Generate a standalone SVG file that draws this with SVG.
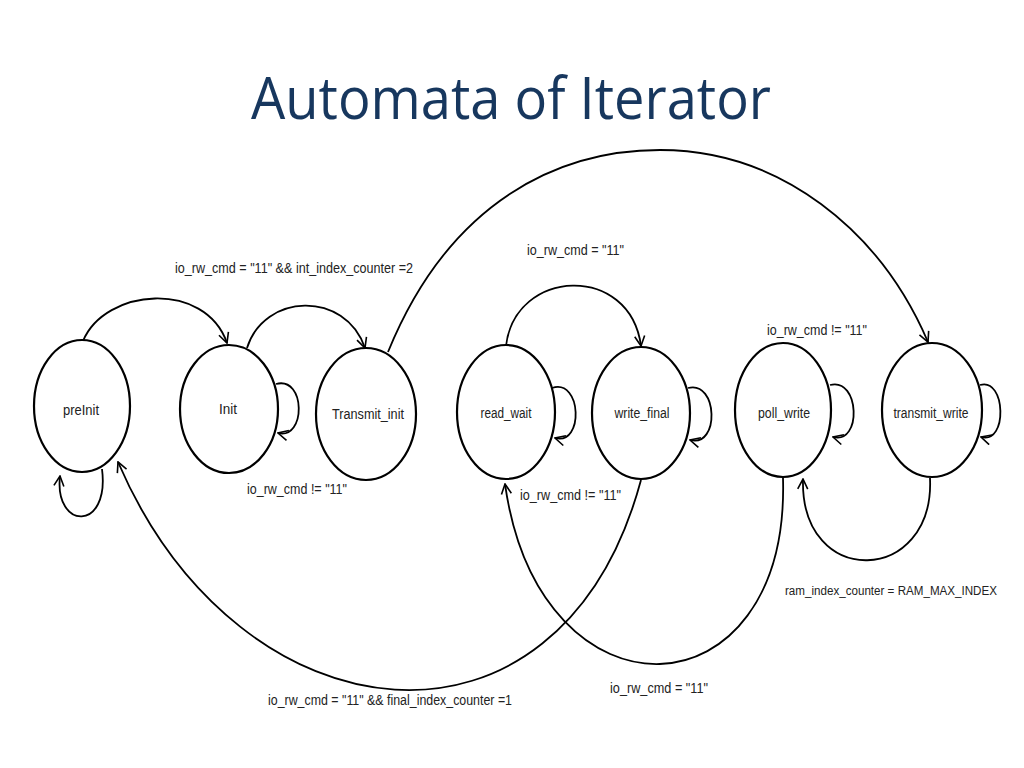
<svg xmlns="http://www.w3.org/2000/svg" width="1024" height="768" viewBox="0 0 1024 768">
<defs>
<style>
.node ellipse{fill:#fff;stroke:#000;stroke-width:2.2}
.node text{font-family:"Liberation Sans",Arial,sans-serif;font-size:14px;fill:#222;text-anchor:middle}
.edge{fill:none;stroke:#000;stroke-width:1.8;marker-end:url(#arr)}
.lbl{font-family:"Liberation Sans",Arial,sans-serif;font-size:14px;fill:#222}
.title{font-family:"Open Sans","Liberation Sans",sans-serif;font-size:58px;fill:#17375E;text-anchor:middle}
</style>
<marker id="arr" viewBox="0 0 12 12" refX="11" refY="6" markerWidth="12" markerHeight="12" markerUnits="userSpaceOnUse" orient="auto">
<path d="M1,1 L11,6 L1,11" fill="none" stroke="#000" stroke-width="1.6"/>
</marker>
</defs>
<rect width="1024" height="768" fill="#fff"/>
<text class="title" x="511" y="119" textLength="520" lengthAdjust="spacingAndGlyphs">Automata of Iterator</text>

<g id="connectors">
<path class="edge" d="M83 341 C105 288 205 280 227 343"/>
<path class="edge" d="M247 348 C264 293 345 290 365 348"/>
<path class="edge" d="M276 384 C306 376 306 440 278 433"/>
<path class="edge" d="M102 469 C110 532 54 530 60 476"/>
<path class="edge" d="M388 352 C450 200 560 150 660 150 C780 150 880 230 928 342"/>
<path class="edge" d="M506 346 C515 268 630 263 641 346"/>
<path class="edge" d="M552 388 C582 378 584 446 555 438"/>
<path class="edge" d="M688 388 C718 380 720 448 690 440"/>
<path class="edge" d="M830 385 C860 377 862 445 833 437"/>
<path class="edge" d="M980 385 C1006 377 1008 445 981 437"/>
<path class="edge" d="M930 478 C935 585 800 590 803 479"/>
<path class="edge" d="M783 478 C790 720 540 730 505 484"/>
<path class="edge" d="M641 480 C560 780 240 745 118 462"/>
</g>

<g id="edge-labels">
<text class="lbl" x="175" y="273" textLength="238" lengthAdjust="spacingAndGlyphs">io_rw_cmd = "11" &amp;&amp; int_index_counter =2</text>
<text class="lbl" x="247" y="494" textLength="100" lengthAdjust="spacingAndGlyphs">io_rw_cmd != "11"</text>
<text class="lbl" x="527" y="255" textLength="97" lengthAdjust="spacingAndGlyphs">io_rw_cmd = "11"</text>
<text class="lbl" x="520" y="500" textLength="101" lengthAdjust="spacingAndGlyphs">io_rw_cmd != "11"</text>
<text class="lbl" x="767" y="335" textLength="100" lengthAdjust="spacingAndGlyphs">io_rw_cmd != "11"</text>
<text class="lbl" x="785" y="595" style="font-size:12.5px" textLength="212" lengthAdjust="spacingAndGlyphs">ram_index_counter = RAM_MAX_INDEX</text>
<text class="lbl" x="268" y="705" textLength="244" lengthAdjust="spacingAndGlyphs">io_rw_cmd = "11" &amp;&amp; final_index_counter =1</text>
<text class="lbl" x="610" y="693" textLength="98" lengthAdjust="spacingAndGlyphs">io_rw_cmd = "11"</text>
</g>

<g id="preInit" class="node"><ellipse cx="82" cy="406" rx="48" ry="66"/><text x="81" y="415" textLength="36" lengthAdjust="spacingAndGlyphs">preInit</text></g>
<g id="Init" class="node"><ellipse cx="229" cy="409" rx="49" ry="64"/><text x="228" y="414" textLength="18" lengthAdjust="spacingAndGlyphs">Init</text></g>
<g id="Transmit_init" class="node"><ellipse cx="366" cy="414" rx="50" ry="66"/><text x="368" y="419" textLength="72" lengthAdjust="spacingAndGlyphs">Transmit_init</text></g>
<g id="read_wait" class="node"><ellipse cx="506" cy="412" rx="49" ry="67"/><text x="506" y="418" textLength="51" lengthAdjust="spacingAndGlyphs">read_wait</text></g>
<g id="write_final" class="node"><ellipse cx="641" cy="413" rx="49" ry="66"/><text x="642" y="418" textLength="55" lengthAdjust="spacingAndGlyphs">write_final</text></g>
<g id="poll_write" class="node"><ellipse cx="783" cy="410" rx="48" ry="67"/><text x="784" y="418" textLength="52" lengthAdjust="spacingAndGlyphs">poll_write</text></g>
<g id="transmit_write" class="node"><ellipse cx="932" cy="410" rx="50" ry="67"/><text x="931" y="418" textLength="75" lengthAdjust="spacingAndGlyphs">transmit_write</text></g>
</svg>
